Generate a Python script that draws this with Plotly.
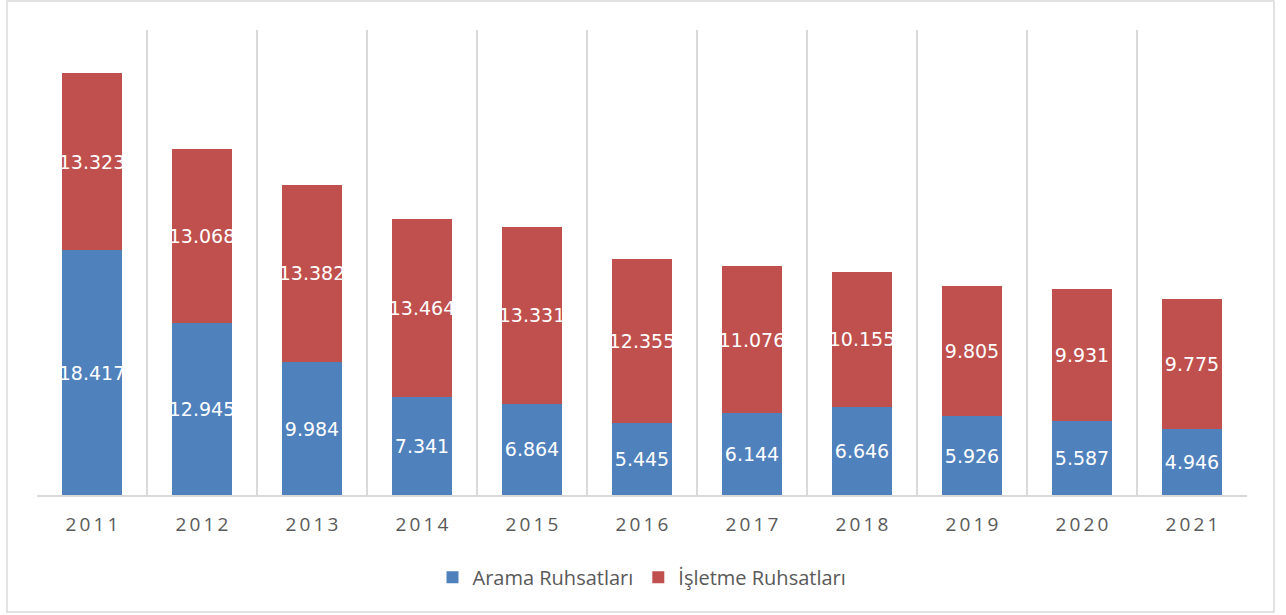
import plotly.graph_objects as go

years = ["2011", "2012", "2013", "2014", "2015", "2016", "2017", "2018", "2019", "2020", "2021"]
arama = [18417, 12945, 9984, 7341, 6864, 5445, 6144, 6646, 5926, 5587, 4946]
isletme = [13323, 13068, 13382, 13464, 13331, 12355, 11076, 10155, 9805, 9931, 9775]

# spaced tick labels, like "2 0 1 1"
tick_text = ["\u2009".join(y) for y in years]

label_font = dict(family="DejaVu Sans", size=19, color="white")

fig = go.Figure()
fig.add_trace(go.Bar(
    x=years, y=arama, name="Arama Ruhsatları",
    marker=dict(color="#4F81BD", line=dict(width=0)),
    texttemplate="%{y:,}", textposition="inside", insidetextanchor="middle",
    textangle=0, constraintext="none", textfont=label_font, hoverinfo="y",
))
fig.add_trace(go.Bar(
    x=years, y=isletme, name="İşletme Ruhsatları",
    marker=dict(color="#C0504D", line=dict(width=0)),
    texttemplate="%{y:,}", textposition="inside", insidetextanchor="middle",
    textangle=0, constraintext="none", textfont=label_font, hoverinfo="y",
))

fig.update_layout(
    barmode="stack",
    bargap=0.45,
    separators=",.",
    width=1286, height=615,
    margin=dict(l=37, r=39, t=30, b=120),
    paper_bgcolor="white", plot_bgcolor="white",
    font=dict(family="Open Sans", color="#595959"),
    legend=dict(
        orientation="h", x=0.5, xanchor="center", y=-0.135, yanchor="top",
        font=dict(size=20, color="#595959"), traceorder="normal",
        itemwidth=30,
    ),
    xaxis=dict(
        type="category", tickson="boundaries", tickvals=years, ticktext=tick_text,
        showgrid=True, gridcolor="#D9D9D9", gridwidth=1.5,
        showline=True, linecolor="#D9D9D9", linewidth=1.5,
        ticks="", ticklabelstandoff=11,
        tickfont=dict(family="Open Sans", size=19, color="#595959"),
    ),
    yaxis=dict(
        range=[0, 35000], visible=False, showgrid=False, zeroline=False,
    ),
    shapes=[dict(
        type="rect", xref="paper", yref="paper",
        x0=-0.0248, x1=1.0223, y0=-0.2516, y1=1.0624,
        line=dict(color="#D9D9D9", width=1.5), fillcolor="rgba(0,0,0,0)",
    )],
)

fig.write_html("out.html", config={"displayModeBar": False},
               post_script="document.body.style.margin='0';")
